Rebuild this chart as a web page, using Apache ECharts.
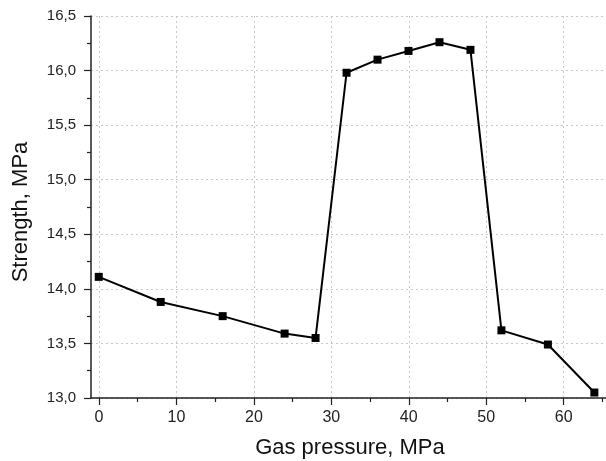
<!DOCTYPE html>
<html>
<head>
<meta charset="utf-8">
<script src="https://cdn.jsdelivr.net/npm/echarts@6/dist/echarts.min.js"></script>
<style>
  html, body { margin: 0; padding: 0; background: #fff; }
  #chart { width: 606px; height: 461px; }
</style>
</head>
<body>
<div id="chart"></div>
<script>
// Gas pressure (MPa) and measured strength (MPa)
const pressure = [0, 8, 16, 24, 28, 32, 36, 40, 44, 48, 52, 58, 64]
const strength = [14.11, 13.88, 13.75, 13.59, 13.55, 15.98, 16.1, 16.18, 16.26, 16.19, 13.62, 13.49, 13.05]

const xName = 'Gas pressure, MPa'
const yName = 'Strength, MPa'

const FONT = '"Liberation Sans", Arial, sans-serif'
const UNIT = 7.744 // px per MPa on the x axis

const chart = echarts.init(document.getElementById('chart'))

const gridLine = { show: true, lineStyle: { color: '#c8c8c8', width: 1, type: [2, 3] } }

const option = {
  animation: false,
  textStyle: { fontFamily: FONT },
  grid: [
    // data grid, starts a little before 0
    { left: 91, top: 16, bottom: 63, width: 71 * UNIT, outerBoundsMode: 'none', containLabel: false },
    // tick grid, starts exactly at 0
    { left: 99, top: 16, bottom: 63, width: 70 * UNIT, outerBoundsMode: 'none', containLabel: false }
  ],
  xAxis: [
    {
      type: 'value',
      gridIndex: 0,
      min: -1,
      max: 70,
      axisLine: { show: true, lineStyle: { color: '#222', width: 1.5 } },
      axisTick: { show: false },
      axisLabel: { show: false },
      splitLine: { show: false },
      name: xName,
      nameLocation: 'middle',
      nameGap: 39,
      // the grid runs past the right edge, so pull the title back to the visible centre
      nameTextStyle: { fontSize: 22, color: '#111', fontFamily: FONT, padding: [0, 32, 0, 0] }
    },
    {
      type: 'value',
      gridIndex: 1,
      min: 0,
      max: 70,
      interval: 10,
      axisLine: { show: false, onZero: false },
      axisTick: { show: true, length: 7, lineStyle: { color: '#222', width: 1.2 } },
      minorTick: { show: true, splitNumber: 2, length: 4, lineStyle: { color: '#222', width: 1.2 } },
      axisLabel: { fontSize: 16, color: '#222', margin: 12, fontFamily: FONT },
      splitLine: gridLine
    }
  ],
  yAxis: [
    {
      type: 'value',
      gridIndex: 0,
      min: 13,
      max: 16.5,
      interval: 0.5,
      axisLine: { show: true, onZero: false, lineStyle: { color: '#222', width: 1.5 } },
      axisTick: { show: true, length: 7, lineStyle: { color: '#222', width: 1.2 } },
      minorTick: { show: true, splitNumber: 2, length: 4, lineStyle: { color: '#222', width: 1.2 } },
      axisLabel: {
        fontSize: 15,
        color: '#222',
        margin: 15,
        fontFamily: FONT,
        formatter: (v) => v.toFixed(1).replace('.', ',')
      },
      splitLine: gridLine,
      name: yName,
      nameLocation: 'middle',
      nameGap: 59,
      nameTextStyle: { fontSize: 22, color: '#111', fontFamily: FONT, padding: [0, 10, 0, 0] }
    },
    {
      type: 'value',
      gridIndex: 1,
      min: 13,
      max: 16.5,
      show: false
    }
  ],
  series: [
    {
      type: 'line',
      xAxisIndex: 0,
      yAxisIndex: 0,
      data: pressure.map((p, i) => [p, strength[i]]),
      symbol: 'rect',
      symbolSize: 8,
      lineStyle: { color: '#000', width: 2 },
      itemStyle: { color: '#000' },
      clip: false
    }
  ]
}

chart.setOption(option)
</script>
</body>
</html>
